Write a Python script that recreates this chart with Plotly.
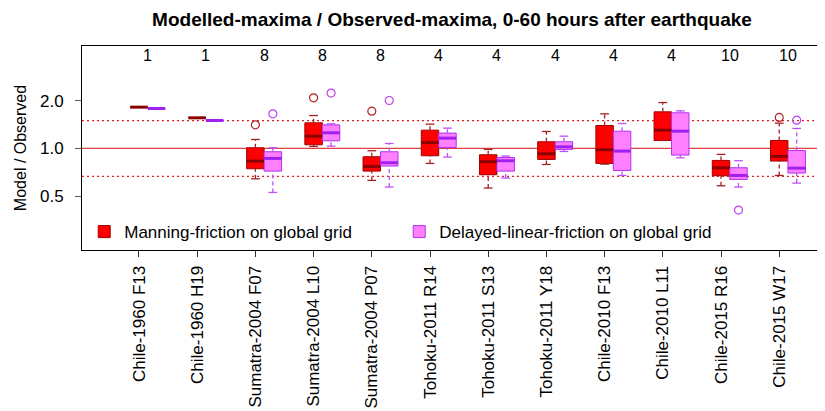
import plotly.graph_objects as go

# ---------------- data ----------------
categories = ["Chile-1960 F13", "Chile-1960 H19", "Sumatra-2004 F07", "Sumatra-2004 L10",
              "Sumatra-2004 P07", "Tohoku-2011 R14", "Tohoku-2011 S13", "Tohoku-2011 Y18",
              "Chile-2010 F13", "Chile-2010 L11", "Chile-2015 R16", "Chile-2015 W17"]
n_obs = [1, 1, 8, 8, 8, 4, 4, 4, 4, 4, 10, 10]

# Manning-friction on global grid
man_low = [1.824, 1.562, 0.643, 1.030, 0.628, 0.804, 0.562, 0.792, 0.796, 1.123, 0.581, 0.675]
man_q1 = [1.824, 1.562, 0.744, 1.055, 0.719, 0.899, 0.682, 0.852, 0.804, 1.123, 0.672, 0.832]
man_med = [1.824, 1.562, 0.832, 1.196, 0.770, 1.091, 0.824, 0.925, 0.981, 1.305, 0.755, 0.890]
man_q3 = [1.824, 1.562, 1.010, 1.452, 0.886, 1.305, 0.912, 1.102, 1.397, 1.704, 0.840, 1.123]
man_up = [1.824, 1.562, 1.140, 1.615, 0.967, 1.424, 0.986, 1.280, 1.655, 1.951, 0.917, 1.445]
man_out = [[], [], [1.41], [2.09], [1.72], [], [], [], [], [], [], [1.57]]

# Delayed-linear-friction on global grid
dlf_low = [1.788, 1.502, 0.527, 1.034, 0.570, 0.882, 0.650, 0.957, 0.675, 0.873, 0.570, 0.604]
dlf_q1 = [1.788, 1.502, 0.719, 1.118, 0.774, 1.015, 0.719, 0.986, 0.726, 0.908, 0.637, 0.699]
dlf_med = [1.788, 1.502, 0.865, 1.256, 0.812, 1.162, 0.836, 1.024, 0.962, 1.286, 0.675, 0.751]
dlf_q3 = [1.788, 1.502, 0.953, 1.410, 0.953, 1.250, 0.877, 1.102, 1.286, 1.680, 0.755, 0.971]
dlf_up = [1.788, 1.502, 1.010, 1.430, 1.075, 1.344, 0.895, 1.196, 1.438, 1.729, 0.836, 1.338]
dlf_out = [[], [], [1.655], [2.24], [2.01], [], [], [], [], [], [0.408], [1.51]]

ref_solid = [1.0]
ref_dotted = [2 / 3, 1.5]
y_ticks = [0.5, 1.0, 2.0]
y_tick_text = ["0.5", "1.0", "2.0"]

title = "Modelled-maxima / Observed-maxima, 0-60 hours after earthquake"
names = ["Manning-friction on global grid", "Delayed-linear-friction on global grid"]

# ---------------- style ----------------
FONT = "Liberation Sans, Arial, Helvetica, sans-serif"
BW = 0.3      # box width in category units
OFF = 0.3     # offset of second series
CAP = 0.075   # half staple width

# the page body adds an 8px margin, so the figure is 8px smaller than the window
FIG_W, FIG_H = 817, 403

series = [
    dict(name=names[0], off=0.0, low=man_low, q1=man_q1, med=man_med, q3=man_q3, up=man_up,
         out=man_out, fill="#FF0000", border="#A00000", median="#8B0000",
         whisk="#A52020", outc="#B22222"),
    dict(name=names[1], off=OFF, low=dlf_low, q1=dlf_q1, med=dlf_med, q3=dlf_q3, up=dlf_up,
         out=dlf_out, fill="#FF80FF", border="#B030F0", median="#A020F0",
         whisk="#C050F8", outc="#C040F0"),
]

fig = go.Figure()
idx = list(range(len(categories)))

for s in series:
    xs = [i + s["off"] for i in idx]
    # whiskers (dashed) and staples
    wx, wy, cx, cy = [], [], [], []
    for x, lo, q1, q3, hi in zip(xs, s["low"], s["q1"], s["q3"], s["up"]):
        if hi > q3:
            wx += [x, x, None]; wy += [q3, hi, None]
        if lo < q1:
            wx += [x, x, None]; wy += [lo, q1, None]
        if hi > q1 or lo < q3:
            cx += [x - CAP, x + CAP, None, x - CAP, x + CAP, None]
            cy += [hi, hi, None, lo, lo, None]
    fig.add_trace(go.Scatter(x=wx, y=wy, mode="lines", showlegend=False, hoverinfo="skip",
                             line=dict(color=s["whisk"], width=1.3, dash="4px,3px")))
    fig.add_trace(go.Scatter(x=cx, y=cy, mode="lines", showlegend=False, hoverinfo="skip",
                             line=dict(color=s["whisk"], width=1.3)))
    # boxes
    fig.add_trace(go.Box(
        name=s["name"], x=xs, q1=s["q1"], median=s["med"], q3=s["q3"],
        lowerfence=s["q1"], upperfence=s["q3"], width=BW, whiskerwidth=0,
        fillcolor=s["fill"], line=dict(color=s["border"], width=1),
        boxpoints=False, hoverinfo="skip", showlegend=True))
    # thick medians
    mx, my = [], []
    for x, m in zip(xs, s["med"]):
        mx += [x - BW / 2, x + BW / 2, None]; my += [m, m, None]
    fig.add_trace(go.Scatter(x=mx, y=my, mode="lines", showlegend=False, hoverinfo="skip",
                             line=dict(color=s["median"], width=3)))
    # outliers
    ox, oy = [], []
    for x, outs in zip(xs, s["out"]):
        for v in outs:
            ox.append(x); oy.append(v)
    fig.add_trace(go.Scatter(x=ox, y=oy, mode="markers", showlegend=False, hoverinfo="skip",
                             marker=dict(symbol="circle-open", size=8, color=s["outc"],
                                         line=dict(color=s["outc"], width=1.2))))

# reference lines
shapes = []
for v in ref_solid:
    shapes.append(dict(type="line", xref="paper", yref="y", x0=0, x1=1, y0=v, y1=v,
                       line=dict(color="#E04040", width=1.2), layer="below"))
for v in ref_dotted:
    shapes.append(dict(type="line", xref="paper", yref="y", x0=0, x1=1, y0=v, y1=v,
                       line=dict(color="#E02020", width=1.3, dash="2px,3px"), layer="below"))

annotations = []
for i, n in zip(idx, n_obs):
    annotations.append(dict(x=i + OFF / 2, y=0.952, xref="x", yref="paper", text=str(n),
                            showarrow=False, font=dict(size=16, color="black", family=FONT),
                            xanchor="center", yanchor="middle"))

fig.update_layout(
    width=FIG_W, height=FIG_H,
    margin=dict(l=74, r=3, t=38, b=161, autoexpand=False),
    paper_bgcolor="white", plot_bgcolor="white",
    font=dict(family=FONT, size=16, color="black"),
    title=dict(text="<b>" + title + "</b>", x=0.5, xref="paper", xanchor="center",
               y=1 - 11 / FIG_H, yref="container", yanchor="middle",
               font=dict(size=19, family=FONT, color="black")),
    boxmode="overlay",
    shapes=shapes, annotations=annotations,
    legend=dict(orientation="h", x=0.003, xanchor="left", y=0.088, yanchor="middle",
                bgcolor="rgba(0,0,0,0)", font=dict(size=17, family=FONT),
                entrywidth=270, entrywidthmode="pixels", itemclick=False),
    showlegend=True,
)
fig.update_xaxes(range=[-0.979, 11.735], tickmode="array", tickvals=idx, ticktext=categories,
                 tickangle=-90, ticks="outside", ticklen=6, tickcolor="#333",
                 ticklabelstandoff=2, showgrid=False, zeroline=False,
                 showline=True, linecolor="black", linewidth=1, mirror=True,
                 tickfont=dict(size=17, family=FONT))
fig.update_yaxes(type="log", range=[-0.642, 0.6477], tickmode="array", tickvals=y_ticks,
                 ticktext=y_tick_text, ticks="outside", ticklen=6, tickcolor="#555",
                 ticklabelstandoff=8, showgrid=False, zeroline=False,
                 showline=True, linecolor="black", linewidth=1, mirror=True,
                 tickfont=dict(size=17, family=FONT),
                 title=dict(text="Model / Observed", standoff=9, font=dict(size=16, family=FONT)))

fig.write_html("out.html")
